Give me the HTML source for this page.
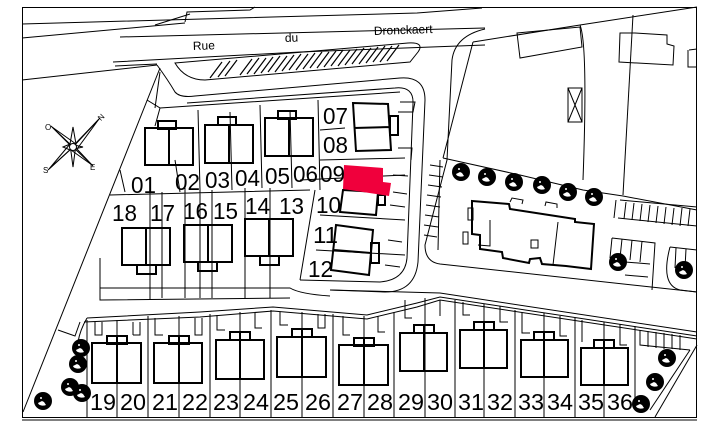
<!DOCTYPE html>
<html><head><meta charset="utf-8"><style>
html,body{margin:0;padding:0;background:#fff;width:717px;height:428px;overflow:hidden}
svg{display:block}
text{font-family:"Liberation Sans Narrow","Liberation Sans",sans-serif;fill:#000}
.n{font-size:23px}
</style></head><body>
<svg width="717" height="428" viewBox="0 0 717 428" xmlns="http://www.w3.org/2000/svg">
<defs>
<g id="tree"><circle r="9" fill="#000"/><path d="M-5,2 A5,3 0 0 0 3,4 L1,1 L-1,0Z" fill="#fff"/><circle cx="-2" cy="-3" r="1" fill="#fff"/></g>
</defs>
<g fill="none" stroke="#000" stroke-width="1">
<rect x="22.5" y="7.5" width="674" height="410"/>
<line x1="22" y1="420" x2="697" y2="420"/>
<polyline points="22,24 417,13 482,8"/>
<polyline points="22,38 185,23"/>
<polyline points="155,25 190,14"/>
<polyline points="185,22 187,12 250,10 255,7"/>
<polyline points="120,37 485,28"/>
<polyline points="113,62 300,52 485,45"/>
<polyline points="22,80 157,65"/>
<polyline points="115,66 157,64"/>
<path d="M175,63 L408,43 Q425,42 418,52 L410,62 L205,80 Q185,80 175,63Z"/>
<g stroke-width="1.2">
<path d="M210,78 L222,62 M218,77 L230,61 M225,76 L237,60 M240,75 L252,59 M247,74 L259,58 M254,74 L266,58 M261,73 L273,57 M268,72 L280,56 M275,72 L287,56 M282,71 L294,55 M289,70 L301,54 M296,70 L308,54 M303,69 L315,53 M310,68 L322,52 M317,68 L329,52 M324,67 L336,51 M331,66 L343,50 M338,66 L350,50 M345,65 L357,49 M352,64 L364,48 M359,64 L371,48 M366,63 L378,47 M373,62 L385,46 M380,62 L392,46 M387,61 L399,45"/>
</g>
<path d="M157,65 Q168,80 175,92 Q180,98 195,96 L400,78 Q425,76 425,100 L418,262 Q415,292 385,292 L330,290"/>
<path d="M160,72 L155,108"/>
<path d="M187,103 L395,88 Q414,86 413,104 L407,258 Q405,280 380,282 L300,280"/>
<path d="M147,100 L160,108 L155,126"/>
<path d="M485,29 Q455,36 452,60 L447,160 L425,245 Q425,262 440,264 L697,292"/>
<path d="M473,42 L443,158"/>
<path d="M473,42 L580,25 L697,7"/>
<path d="M580,25 Q588,45 583,180"/>
<path d="M633,15 L623,195"/>
<path d="M443,158 L520,175 L583,190 L623,196 L697,210"/>
<path d="M517,33 L580,27 L582,47 L520,58Z"/>
<rect x="568" y="88" width="14" height="34"/>
<path d="M568,88 L582,122 M582,88 L568,122"/>
<path d="M635,33 L667,35 L667,44 L674,46 L673,65 L619,62 L620,33Z"/>
<path d="M689,50 L697,49 M688,50 L688,67 L697,67"/>
<path d="M620,200 L697,207 M618,218 L697,226 M616,200 L614,218"/>
<path d="M626,202 L624,219 M634,203 L632,220 M642,204 L640,221 M650,205 L648,222 M658,206 L656,223 M666,207 L664,224 M674,208 L672,225 M682,208 L680,226 M690,209 L688,226"/>
<path d="M612,238 L655,243 L652,290 M612,238 L610,258 M622,239 L620,258 M632,240 L630,260 M642,241 L640,262 M625,262 L650,264 M625,275 L648,277"/>
<path d="M670,247 L697,250 M670,247 Q660,285 680,290 L697,292 M676,248 L675,268 M686,249 L685,268"/>
<path d="M440,160 L438,250 M430,165 L443,167 M429,175 L443,177 M428,185 L442,187 M427,195 L441,197 M426,205 L440,207 M425,215 L439,217 M424,225 L438,227 M424,235 L437,237"/>
<path d="M330,290 L440,293 L697,332"/>
<path d="M87,318 Q80,330 78,342 M87,318 L200,312 L273,307 L367,315 L417,303 L440,297 L697,336"/>
<path d="M84,322 L200,317 L273,311 L367,319 L417,307 L440,300 L697,339"/>
<path d="M23,412 L160,68"/>
<path d="M58,330 L75,336 L80,322"/>
<path d="M697,345 L655,417"/>
<path d="M690,350 L650,410"/>
<path d="M100,288 L290,288 Q300,294 330,296 M100,258 L100,300 L290,298"/>
<path d="M110,195 L310,190 M150,190 L150,300 M185,188 L185,298 M200,190 L200,298 M245,188 L245,298 M270,188 L270,298 M212,190 L212,298 M162,192 L162,298"/>
<path d="M120,170 L125,192 M175,160 L180,192 M198,110 L200,190 M260,105 L262,188 M318,100 L320,190 M290,110 L292,188 M230,112 L232,190"/>
<path d="M160,108 L400,92 M300,180 L405,175"/>
<path d="M320,160 L405,158 M320,130 L345,128 M315,190 L300,280 M320,215 L405,220 M316,250 L405,255"/>
<path d="M400,102 L415,102 L413,112 L398,112 M398,148 L412,148 L411,160 M393,175 L408,176 M393,192 L407,194 M390,205 L405,207 M388,240 L402,242 M385,265 L400,267"/>
<path d="M87,320 L87,417 M117,320 L117,417 M148,316 L148,417 M179,316 L179,417 M210,314 L210,417 M240,312 L240,417 M271,310 L271,417 M302,312 L302,417 M333,314 L333,417 M364,316 L364,417 M394,312 L394,417 M425,298 L425,417 M455,300 L455,417 M484,304 L484,417 M515,310 L515,417 M544,313 L544,417 M575,318 L575,417 M604,322 L604,417 M635,326 L635,400"/>
<path d="M95,322 L95,335 L102,335 L102,322 M133,322 L133,335 M140,322 L140,335 L133,335 M155,318 L155,335 L163,335 M195,318 L195,335 L202,335 L202,318 M217,315 L217,330 L225,330 M255,313 L255,328 L262,328 M280,312 L280,325 L288,325 M318,314 L318,328 L325,328 L325,314 M343,316 L343,335 L350,335 M378,316 L378,332 L385,332 M405,300 L405,318 L412,318 M440,300 L440,316 M463,302 L463,315 L470,315 M500,306 L500,322 L508,322 M522,312 L522,333 L530,333 M560,316 L560,336 L567,336 M582,320 L582,342 M620,324 L620,345 L627,345"/>
<path d="M640,330 L640,345 L690,350 M648,331 L648,347 M656,332 L656,348 M664,333 L664,349 M672,334 L672,349 M680,335 L680,350"/>
<path d="M472,201 L509,204 L510,209 L575,219 L575,222 L594,224 L591,269 L566,266 L542,264 L540,258 L530,259 L529,263 L503,258 L502,252 L480,249 L480,235 L472,234Z" stroke-width="2"/>
<path d="M490,220 L490,246 L478,245 M558,222 L553,265"/>
<rect x="531" y="240" width="7" height="8"/>
<rect x="468" y="208" width="5" height="12"/>
<rect x="463" y="232" width="5" height="12"/>
<path d="M510,202 L512,198 L523,200 L522,204 M545,206 L546,202 L557,204 L557,208"/>
</g>
<g fill="none" stroke="#000" stroke-width="1">
<path d="M73,147 L100,118 M73,147 L51,126 M73,147 L48,170 M73,147 L93,166"/>
<path d="M75,144 L99,119 L77,149 M70,145 L52,127 L76,144 M71,149 L49,169 L70,144 M76,148 L92,165 L71,150"/>
<path d="M73,127 L76,144 L73,167 L70,144Z M63,147 L70,144 L83,147 L70,150Z"/>
<circle cx="73" cy="147" r="3.5" fill="#fff"/>
</g>
<text x="98" y="120" font-size="8" transform="rotate(-45 101 117)">N</text>
<text x="45" y="130" font-size="8">O</text>
<text x="43" y="173" font-size="8">S</text>
<text x="90" y="170" font-size="8">E</text>
<g fill="none" stroke="#000" stroke-width="2">
<rect x="145" y="128" width="48" height="37"/><line x1="169" y1="128" x2="169" y2="165"/><rect x="158" y="121" width="18" height="8"/>
<rect x="205" y="125" width="48" height="38"/><line x1="229" y1="125" x2="229" y2="163"/><rect x="218" y="117" width="18" height="8"/>
<rect x="265" y="118" width="48" height="38"/><line x1="289" y1="118" x2="289" y2="156"/><rect x="278" y="111" width="18" height="8"/>
<path d="M353,103 L388,104 L391,150 L356,151Z M354,128 L390,127"/><rect x="390" y="116" width="8" height="19"/>
<path d="M343,190 L378,192 L376,215 L340,212Z"/><rect x="378" y="195" width="7" height="10"/>
<path d="M336,225 L373,230 L369,275 L331,270Z M334,250 L371,253"/><rect x="371" y="243" width="8" height="20"/>
<rect x="122" y="228" width="48" height="37"/><line x1="146" y1="228" x2="146" y2="265"/><rect x="137" y="265" width="19" height="9"/>
<rect x="184" y="225" width="48" height="37"/><line x1="208" y1="225" x2="208" y2="262"/><rect x="198" y="262" width="19" height="9"/>
<rect x="245" y="219" width="48" height="37"/><line x1="269" y1="219" x2="269" y2="256"/><rect x="260" y="256" width="19" height="9"/>
<rect x="92" y="343" width="49" height="40"/><line x1="117" y1="336" x2="117" y2="383"/><rect x="107" y="336" width="20" height="8"/>
<rect x="154" y="343" width="48" height="40"/><line x1="179" y1="336" x2="179" y2="383"/><rect x="169" y="336" width="20" height="8"/>
<rect x="216" y="340" width="48" height="39"/><line x1="240" y1="332" x2="240" y2="379"/><rect x="230" y="332" width="20" height="8"/>
<rect x="277" y="337" width="49" height="40"/><line x1="302" y1="330" x2="302" y2="377"/><rect x="292" y="329" width="20" height="8"/>
<rect x="339" y="345" width="49" height="40"/><line x1="364" y1="338" x2="364" y2="385"/><rect x="354" y="338" width="20" height="8"/>
<rect x="400" y="333" width="47" height="38"/><line x1="424" y1="326" x2="424" y2="371"/><rect x="414" y="325" width="20" height="8"/>
<rect x="460" y="330" width="47" height="38"/><line x1="484" y1="322" x2="484" y2="368"/><rect x="474" y="322" width="20" height="8"/>
<rect x="521" y="340" width="47" height="37"/><line x1="544" y1="332" x2="544" y2="377"/><rect x="534" y="332" width="20" height="8"/>
<rect x="581" y="348" width="47" height="37"/><line x1="604" y1="340" x2="604" y2="385"/><rect x="594" y="340" width="20" height="8"/>
</g>
<polygon points="344,165 383,168 383,182 391,183 389,196 343,189" fill="#f0003c"/>
<use href="#tree" x="461" y="172"/><use href="#tree" x="487" y="177"/><use href="#tree" x="514" y="182"/><use href="#tree" x="542" y="185"/><use href="#tree" x="568" y="192"/><use href="#tree" x="594" y="197"/>
<use href="#tree" x="618" y="262"/><use href="#tree" x="684" y="270"/>
<use href="#tree" x="81" y="348"/><use href="#tree" x="78" y="364"/><use href="#tree" x="70" y="387"/><use href="#tree" x="82" y="393"/><use href="#tree" x="43" y="401"/>
<use href="#tree" x="667" y="358"/><use href="#tree" x="655" y="382"/><use href="#tree" x="641" y="404"/>
<text x="193" y="50" font-size="12" transform="rotate(-2 193 50)">Rue</text>
<text x="285" y="42" font-size="12" transform="rotate(-2 285 42)">du</text>
<text x="374" y="35" font-size="12" transform="rotate(-2 374 35)">Dronckaert</text>
<g class="n">
<text x="131" y="193" textLength="25" lengthAdjust="spacingAndGlyphs">01</text>
<text x="175" y="190" textLength="25" lengthAdjust="spacingAndGlyphs">02</text>
<text x="205" y="188" textLength="25" lengthAdjust="spacingAndGlyphs">03</text>
<text x="235" y="186" textLength="25" lengthAdjust="spacingAndGlyphs">04</text>
<text x="265" y="184" textLength="25" lengthAdjust="spacingAndGlyphs">05</text>
<text x="293" y="182" textLength="25" lengthAdjust="spacingAndGlyphs">06</text>
<text x="320" y="182" textLength="25" lengthAdjust="spacingAndGlyphs">09</text>
<text x="323" y="124" textLength="25" lengthAdjust="spacingAndGlyphs">07</text>
<text x="323" y="153" textLength="25" lengthAdjust="spacingAndGlyphs">08</text>
<text x="316" y="213" textLength="25" lengthAdjust="spacingAndGlyphs">10</text>
<text x="313" y="243" textLength="25" lengthAdjust="spacingAndGlyphs">11</text>
<text x="308" y="277" textLength="25" lengthAdjust="spacingAndGlyphs">12</text>
<text x="112" y="221" textLength="25" lengthAdjust="spacingAndGlyphs">18</text>
<text x="150" y="221" textLength="25" lengthAdjust="spacingAndGlyphs">17</text>
<text x="183" y="219" textLength="25" lengthAdjust="spacingAndGlyphs">16</text>
<text x="213" y="219" textLength="25" lengthAdjust="spacingAndGlyphs">15</text>
<text x="245" y="214" textLength="25" lengthAdjust="spacingAndGlyphs">14</text>
<text x="279" y="214" textLength="25" lengthAdjust="spacingAndGlyphs">13</text>
<text x="90" y="410" textLength="26" lengthAdjust="spacingAndGlyphs">19</text>
<text x="120" y="410" textLength="26" lengthAdjust="spacingAndGlyphs">20</text>
<text x="152" y="410" textLength="26" lengthAdjust="spacingAndGlyphs">21</text>
<text x="182" y="410" textLength="26" lengthAdjust="spacingAndGlyphs">22</text>
<text x="213" y="410" textLength="26" lengthAdjust="spacingAndGlyphs">23</text>
<text x="243" y="410" textLength="26" lengthAdjust="spacingAndGlyphs">24</text>
<text x="273" y="410" textLength="26" lengthAdjust="spacingAndGlyphs">25</text>
<text x="305" y="410" textLength="26" lengthAdjust="spacingAndGlyphs">26</text>
<text x="337" y="410" textLength="26" lengthAdjust="spacingAndGlyphs">27</text>
<text x="367" y="410" textLength="26" lengthAdjust="spacingAndGlyphs">28</text>
<text x="398" y="410" textLength="26" lengthAdjust="spacingAndGlyphs">29</text>
<text x="427" y="410" textLength="26" lengthAdjust="spacingAndGlyphs">30</text>
<text x="458" y="410" textLength="26" lengthAdjust="spacingAndGlyphs">31</text>
<text x="487" y="410" textLength="26" lengthAdjust="spacingAndGlyphs">32</text>
<text x="518" y="410" textLength="26" lengthAdjust="spacingAndGlyphs">33</text>
<text x="547" y="410" textLength="26" lengthAdjust="spacingAndGlyphs">34</text>
<text x="578" y="410" textLength="26" lengthAdjust="spacingAndGlyphs">35</text>
<text x="607" y="410" textLength="26" lengthAdjust="spacingAndGlyphs">36</text>
</g>
</svg>
</body></html>
